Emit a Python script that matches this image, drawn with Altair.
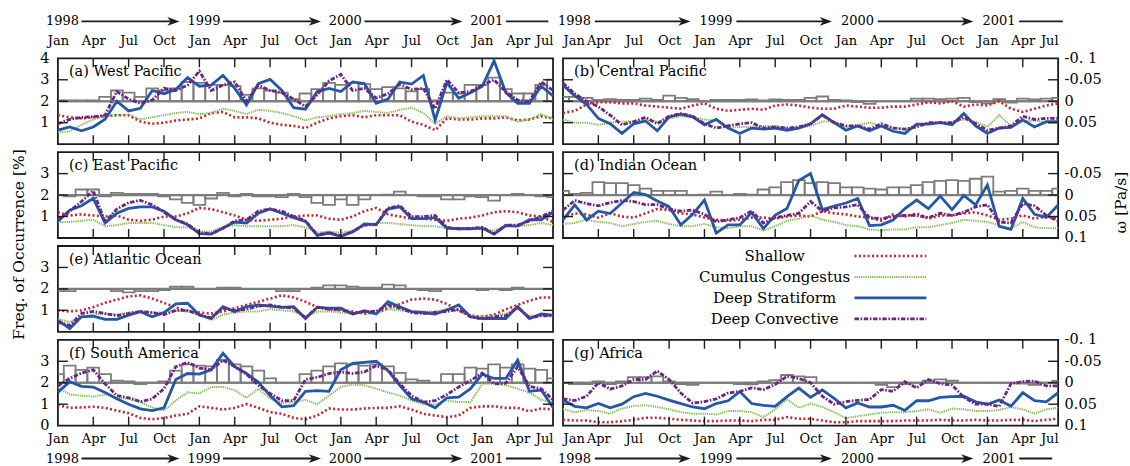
import altair as alt
import pandas as pd

# ---------------------------------------------------------------------------
# Monthly series, Jan 1998 .. Jul 2001 (43 months)
# cloud-type frequency of occurrence [%] and mid-level omega [Pa/s]
# ---------------------------------------------------------------------------
MONTHS = list(range(43))
MONTH_TICKS = list(range(0, 43, 3))
YEARS = ["1998", "1999", "2000", "2001"]
YEAR_START = [0, 12, 24, 36]
SERIES = ["Shallow", "Cumulus Congestus", "Deep Stratiform", "Deep Convective"]

# (a) West Pacific
wp_shallow = [1.35, 1.25, 1.2, 1.25, 1.3, 1.35, 1.35, 1.05, 0.95, 1.0, 1.1, 1.15, 1.2, 1.45, 1.5, 1.25, 1.25, 1.2, 1.0, 0.9, 0.85, 0.75, 1.0, 1.2, 1.3, 1.35, 1.25, 1.35, 1.35, 1.35, 1.05, 0.9, 0.65, 1.2, 1.15, 1.15, 1.2, 1.2, 1.25, 1.1, 1.15, 1.3, 1.2]
wp_congestus = [0.55, 0.6, 0.9, 1.15, 1.3, 1.35, 1.38, 1.15, 1.25, 1.35, 1.45, 1.5, 1.4, 1.45, 1.65, 1.55, 1.4, 1.6, 1.55, 1.45, 1.3, 1.1, 1.25, 1.3, 1.4, 1.45, 1.55, 1.5, 1.45, 1.6, 1.7, 1.45, 0.95, 1.3, 1.2, 1.25, 1.3, 1.3, 1.3, 1.05, 1.15, 1.4, 1.15]
wp_stratiform = [0.65, 0.8, 0.62, 0.8, 1.16, 2.0, 1.55, 1.67, 2.5, 2.35, 2.55, 3.1, 2.7, 2.75, 3.2, 2.6, 1.83, 2.82, 3.02, 2.5, 1.7, 1.63, 2.45, 2.6, 2.45, 2.9, 2.82, 1.9, 2.1, 2.9, 2.8, 3.2, 1.12, 2.87, 2.14, 2.4, 2.7, 3.88, 2.4, 1.9, 1.9, 2.7, 2.25]
wp_convective = [0.95, 1.15, 1.25, 1.28, 1.35, 2.45, 2.1, 1.9, 2.05, 2.6, 2.5, 2.75, 3.4, 2.5, 2.75, 2.9, 2.0, 2.75, 2.5, 2.4, 2.1, 1.75, 2.3, 2.95, 3.25, 2.5, 2.6, 2.15, 2.35, 2.8, 2.55, 2.6, 1.65, 3.0, 2.4, 2.45, 2.75, 3.0, 2.45, 2.05, 2.0, 2.9, 2.5]
wp_omega = [-0.002, -0.002, -0.002, -0.002, -0.01, -0.025, -0.02, -0.01, -0.03, -0.025, -0.03, -0.045, -0.043, -0.038, -0.038, -0.035, -0.015, -0.03, -0.025, -0.02, -0.005, -0.018, -0.028, -0.043, -0.038, -0.043, -0.04, -0.028, -0.033, -0.03, -0.023, -0.028, -0.002, -0.02, -0.018, -0.038, -0.038, -0.055, -0.028, -0.018, -0.018, -0.038, -0.05]

# (b) Central Pacific
cp_shallow = [1.45, 1.55, 1.85, 1.95, 1.95, 1.9, 1.9, 1.8, 1.75, 1.7, 1.65, 1.8, 1.9, 1.65, 1.55, 1.6, 1.65, 1.6, 1.8, 1.85, 1.8, 1.7, 1.65, 1.65, 1.8, 1.75, 1.7, 1.7, 1.75, 1.75, 1.85, 1.95, 1.9, 2.0, 1.75, 1.85, 1.8, 2.0, 1.65, 1.5, 1.65, 1.8, 1.9]
cp_congestus = [1.15, 1.0, 1.0, 0.9, 1.0, 1.05, 1.05, 1.1, 1.05, 1.2, 1.3, 1.25, 1.15, 1.1, 0.75, 0.8, 0.8, 0.85, 0.85, 0.75, 0.75, 0.85, 1.05, 1.05, 0.8, 0.9, 1.0, 0.85, 0.75, 0.7, 0.85, 1.0, 1.0, 1.0, 1.15, 1.05, 0.8, 1.35, 0.85, 1.05, 1.1, 1.0, 1.0]
cp_stratiform = [2.75, 2.25, 1.85, 1.2, 0.95, 0.5, 0.95, 1.08, 0.62, 1.27, 1.4, 1.27, 0.9, 1.16, 0.75, 0.5, 0.75, 0.7, 0.75, 0.65, 0.75, 0.95, 1.37, 1.0, 0.65, 0.85, 0.62, 0.85, 0.6, 0.5, 0.93, 0.93, 1.0, 0.9, 1.43, 0.85, 0.5, 0.75, 0.78, 1.13, 0.8, 1.05, 1.05]
cp_convective = [2.85, 2.35, 2.0, 1.75, 1.35, 0.9, 1.05, 1.25, 0.95, 1.3, 1.42, 1.3, 0.95, 0.75, 0.85, 0.95, 1.0, 0.75, 0.8, 0.75, 0.8, 0.95, 1.35, 1.0, 0.85, 0.85, 0.7, 0.95, 0.75, 0.7, 0.8, 1.0, 1.0, 1.0, 1.25, 0.95, 0.65, 0.75, 0.85, 1.3, 1.15, 1.2, 1.2]
cp_omega = [-0.01, -0.01, -0.008, -0.003, -0.005, -0.003, -0.003, -0.006, -0.003, -0.013, -0.008, -0.005, 0.001, -0.003, -0.003, -0.003, -0.004, -0.002, -0.004, -0.003, -0.003, -0.008, -0.011, -0.003, -0.002, 0.002, 0.006, 0.0, 0.0, 0.0, -0.006, -0.006, -0.005, -0.006, -0.008, 0.002, 0.005, -0.005, 0.003, -0.006, -0.004, -0.006, -0.008]

# (c) East Pacific
ep_shallow = [1.2, 1.05, 1.1, 1.05, 1.0, 1.05, 0.85, 0.8, 0.85, 1.0, 1.0, 1.15, 1.4, 1.35, 1.2, 1.05, 0.85, 0.8, 0.85, 0.9, 1.0, 1.05, 1.05, 0.9, 0.85, 1.0, 1.25, 1.4, 1.1, 1.0, 0.9, 0.9, 0.85, 0.8, 0.9, 0.95, 1.05, 1.2, 1.25, 1.2, 1.05, 1.0, 0.75]
ep_congestus = [0.75, 0.75, 0.8, 0.85, 0.55, 0.6, 0.7, 0.7, 0.7, 0.6, 0.5, 0.5, 0.3, 0.3, 0.5, 0.6, 0.55, 0.55, 0.55, 0.55, 0.6, 0.5, 0.25, 0.3, 0.25, 0.35, 0.6, 0.7, 0.7, 0.65, 0.6, 0.55, 0.55, 0.45, 0.4, 0.45, 0.4, 0.35, 0.55, 0.55, 0.6, 0.7, 0.6]
ep_stratiform = [0.77, 1.3, 1.5, 1.85, 0.7, 1.15, 1.38, 1.45, 1.45, 1.25, 0.85, 0.62, 0.2, 0.18, 0.46, 0.74, 0.7, 1.15, 1.35, 1.15, 0.95, 0.77, 0.12, 0.23, 0.08, 0.28, 0.65, 0.62, 1.35, 1.45, 0.9, 0.9, 0.95, 0.46, 0.43, 0.43, 0.46, 0.18, 0.58, 0.55, 0.85, 0.85, 1.2]
ep_convective = [0.85, 1.25, 1.7, 2.2, 0.75, 1.35, 1.65, 1.75, 1.55, 1.2, 0.85, 0.65, 0.25, 0.2, 0.45, 0.8, 0.85, 1.25, 1.35, 1.25, 1.0, 0.8, 0.15, 0.25, 0.1, 0.3, 0.6, 0.62, 1.4, 1.5, 1.0, 1.0, 1.05, 0.5, 0.43, 0.45, 0.5, 0.2, 0.6, 0.6, 0.8, 1.0, 1.25]
ep_omega = [0.0, 0.003, -0.013, -0.013, 0.003, -0.005, -0.003, -0.003, -0.003, 0.003, 0.01, 0.018, 0.023, 0.008, -0.005, 0.003, -0.003, 0.003, 0.003, 0.005, -0.003, 0.005, 0.018, 0.023, 0.01, 0.023, 0.01, 0.0, -0.001, -0.008, 0.0, 0.003, 0.003, 0.01, 0.01, 0.003, 0.005, 0.013, 0.0, -0.003, 0.0, 0.003, 0.005]

# (d) Indian Ocean
io_shallow = [0.95, 1.15, 1.1, 0.95, 1.15, 1.0, 0.95, 1.15, 1.35, 1.3, 1.15, 1.1, 0.95, 0.85, 0.8, 0.85, 0.95, 0.95, 0.9, 1.0, 1.05, 1.0, 1.25, 1.15, 1.1, 1.0, 0.95, 0.8, 1.1, 1.0, 1.15, 0.9, 1.05, 1.05, 1.15, 1.2, 1.05, 0.85, 0.9, 1.05, 0.9, 1.0, 0.9]
io_congestus = [0.65, 0.7, 0.85, 0.75, 0.7, 0.55, 0.65, 0.75, 0.8, 0.65, 0.55, 0.55, 0.65, 0.5, 0.45, 0.55, 0.55, 0.35, 0.55, 0.8, 0.9, 1.05, 0.85, 0.75, 0.6, 0.55, 0.4, 0.35, 0.4, 0.4, 0.5, 0.5, 0.6, 0.7, 0.85, 0.8, 0.75, 0.6, 0.45, 0.75, 0.5, 0.45, 0.45]
io_stratiform = [0.84, 1.54, 0.84, 1.25, 1.14, 1.63, 2.12, 2.02, 1.72, 1.46, 0.61, 1.1, 1.77, 0.23, 0.61, 0.61, 1.19, 0.44, 1.07, 1.37, 2.68, 3.0, 1.32, 1.49, 1.63, 1.84, 0.58, 0.61, 0.84, 1.37, 1.77, 1.37, 1.95, 1.32, 1.98, 1.54, 2.47, 0.54, 0.4, 1.84, 1.1, 0.96, 1.54]
io_convective = [1.3, 1.75, 1.6, 1.5, 1.65, 1.75, 1.7, 1.55, 1.55, 1.35, 1.25, 1.3, 1.1, 0.75, 0.85, 0.95, 1.25, 0.7, 0.95, 1.05, 1.15, 1.7, 1.25, 1.4, 1.45, 1.55, 0.95, 0.9, 1.0, 1.05, 1.05, 0.95, 1.15, 1.05, 1.2, 1.45, 1.55, 0.75, 0.7, 1.6, 1.5, 1.05, 0.8]
io_omega = [-0.01, -0.003, -0.005, -0.03, -0.028, -0.028, -0.023, -0.015, -0.01, -0.01, -0.01, 0.0, -0.001, -0.008, 0.0, -0.003, -0.001, -0.013, -0.018, -0.03, -0.035, -0.028, -0.03, -0.028, -0.018, -0.018, -0.015, -0.013, -0.018, -0.018, -0.023, -0.03, -0.033, -0.035, -0.033, -0.038, -0.043, -0.008, -0.01, -0.015, -0.01, -0.01, -0.015]

# (e) Atlantic Ocean
at_shallow = [1.0, 0.95, 1.0, 1.15, 1.35, 1.5, 1.65, 1.7, 1.55, 1.35, 1.15, 0.95, 0.9, 0.85, 0.95, 1.1, 1.25, 1.4, 1.55, 1.7, 1.6, 1.4, 1.15, 1.05, 1.0, 0.95, 0.85, 0.9, 1.1, 1.3, 1.5, 1.55, 1.5, 1.3, 1.0, 0.75, 0.7, 0.8, 1.05, 1.25, 1.45, 1.6, 1.6]
at_congestus = [0.6, 0.45, 0.7, 0.8, 0.85, 0.8, 0.9, 0.95, 0.9, 0.9, 1.0, 0.95, 0.8, 0.55, 0.8, 0.9, 0.95, 0.95, 1.05, 1.0, 0.95, 0.7, 0.95, 0.95, 0.9, 0.85, 0.9, 0.85, 1.05, 1.0, 0.95, 0.95, 0.95, 1.05, 0.95, 0.75, 0.75, 0.75, 0.85, 1.05, 0.75, 0.75, 0.75]
at_stratiform = [0.55, 0.15, 0.7, 0.73, 0.58, 0.58, 0.78, 0.94, 0.7, 0.9, 1.3, 1.33, 0.78, 0.62, 1.17, 0.94, 1.17, 1.25, 1.2, 1.14, 1.17, 0.62, 1.14, 1.1, 1.1, 0.83, 0.98, 0.83, 1.4, 1.17, 0.94, 0.9, 0.83, 1.02, 1.25, 0.7, 0.62, 0.62, 0.62, 1.17, 0.62, 0.83, 0.78]
at_convective = [0.45, 0.3, 0.85, 0.95, 0.85, 0.75, 0.85, 0.95, 0.9, 0.8, 1.0, 1.0, 0.8, 0.65, 1.1, 1.0, 1.05, 1.2, 1.25, 1.15, 1.1, 0.65, 1.15, 1.05, 1.05, 0.85, 0.95, 0.95, 1.25, 1.1, 0.9, 0.85, 0.9, 0.95, 1.05, 0.7, 0.6, 0.7, 0.75, 1.15, 0.65, 0.75, 0.75]
at_omega = [0.005, 0.005, 0.0, 0.0, 0.0, 0.005, 0.008, 0.005, 0.005, 0.003, -0.005, -0.005, 0.0, 0.0, -0.003, -0.003, 0.0, 0.0, 0.0, 0.005, 0.005, 0.0, -0.003, -0.008, -0.008, -0.005, -0.003, -0.003, -0.01, -0.008, 0.0, 0.003, 0.005, 0.0, 0.0, 0.0, 0.003, 0.0, 0.003, -0.003, 0.0, 0.0, 0.0]

# (f) South America
sa_shallow = [0.97, 0.83, 0.85, 0.88, 0.83, 0.7, 0.58, 0.36, 0.3, 0.36, 0.47, 0.55, 0.9, 0.83, 0.75, 0.83, 1.0, 0.83, 0.63, 0.55, 0.36, 0.3, 0.47, 0.8, 0.75, 0.75, 0.8, 0.83, 0.83, 0.9, 0.75, 0.55, 0.47, 0.4, 0.47, 0.83, 0.9, 0.9, 0.83, 0.83, 0.67, 0.8, 0.75]
sa_congestus = [1.8, 1.45, 1.4, 1.35, 1.45, 1.3, 1.25, 1.1, 0.85, 0.7, 1.17, 1.55, 1.5, 1.8, 1.8, 1.65, 1.3, 1.72, 1.25, 1.05, 1.1, 1.2, 1.0, 1.4, 1.8, 1.92, 1.88, 1.72, 1.55, 1.4, 1.17, 1.0, 1.0, 1.17, 1.1, 1.1, 1.95, 1.95, 1.88, 1.72, 1.55, 1.2, 1.1]
sa_stratiform = [1.55, 2.05, 1.83, 1.8, 1.55, 1.25, 1.0, 0.78, 0.7, 0.83, 2.15, 2.43, 2.4, 2.6, 3.37, 2.75, 2.43, 2.03, 1.4, 0.88, 0.93, 1.6, 1.63, 1.6, 2.6, 2.9, 2.95, 3.0, 2.56, 1.88, 1.25, 1.1, 0.83, 1.3, 1.33, 1.72, 2.4, 2.2, 2.2, 3.05, 1.6, 1.66, 0.85]
sa_convective = [1.85, 2.2, 2.45, 2.6, 1.95, 1.4, 1.3, 1.12, 1.25, 1.72, 2.75, 2.95, 2.68, 2.6, 3.05, 2.75, 2.4, 1.88, 1.5, 1.17, 1.17, 2.15, 2.25, 2.43, 2.5, 2.43, 2.5, 2.8, 2.6, 1.95, 1.4, 1.1, 1.17, 1.45, 1.8, 2.1, 2.45, 1.95, 1.98, 2.75, 1.83, 1.72, 1.2]
sa_omega = [-0.02, -0.04, -0.03, -0.035, -0.02, -0.005, -0.003, 0.003, 0.0, -0.003, -0.028, -0.043, -0.04, -0.038, -0.053, -0.043, -0.038, -0.028, -0.01, 0.0, 0.0, -0.02, -0.028, -0.038, -0.045, -0.043, -0.04, -0.043, -0.038, -0.023, -0.008, -0.005, 0.0, -0.02, -0.02, -0.035, -0.033, -0.043, -0.035, -0.043, -0.033, -0.03, -0.01]

# (g) Africa
af_shallow = [0.27, 0.24, 0.24, 0.16, 0.16, 0.21, 0.27, 0.37, 0.37, 0.32, 0.27, 0.24, 0.21, 0.21, 0.24, 0.24, 0.21, 0.27, 0.27, 0.4, 0.32, 0.32, 0.24, 0.16, 0.16, 0.21, 0.21, 0.21, 0.21, 0.24, 0.24, 0.24, 0.27, 0.24, 0.24, 0.27, 0.24, 0.24, 0.27, 0.27, 0.21, 0.27, 0.32]
af_congestus = [0.78, 0.62, 0.73, 0.68, 0.56, 0.8, 0.92, 0.95, 0.87, 0.76, 0.63, 0.56, 0.56, 0.52, 0.68, 0.68, 0.63, 0.4, 0.76, 1.24, 0.83, 1.03, 0.87, 0.63, 0.35, 0.44, 0.52, 0.6, 0.63, 0.63, 0.68, 0.76, 0.6, 0.8, 0.76, 0.68, 0.68, 0.73, 0.87, 0.76, 0.56, 0.76, 0.83]
af_stratiform = [1.2, 0.9, 0.83, 1.03, 0.83, 1.0, 1.35, 1.5, 1.37, 1.19, 1.03, 0.87, 0.79, 1.03, 1.16, 1.59, 1.03, 0.95, 0.9, 1.35, 1.75, 1.32, 1.67, 1.27, 0.83, 1.06, 0.87, 0.87, 0.95, 0.71, 1.16, 1.16, 1.32, 1.35, 1.37, 1.11, 1.0, 1.19, 0.9, 1.54, 1.16, 1.11, 1.54]
af_convective = [1.25, 1.17, 1.37, 2.0, 1.7, 1.85, 2.15, 2.15, 2.55, 2.15, 1.52, 1.05, 1.12, 1.25, 1.52, 1.6, 1.76, 1.68, 1.92, 2.3, 2.2, 2.0, 1.37, 1.0, 1.12, 1.18, 1.22, 1.68, 1.6, 2.05, 1.76, 2.15, 1.95, 1.9, 1.32, 1.0, 1.0, 0.9, 1.95, 2.05, 2.08, 1.85, 1.85]
af_omega = [0.0, 0.003, 0.003, -0.003, 0.003, -0.003, -0.013, -0.013, -0.015, -0.003, 0.003, 0.005, 0.0, 0.0, 0.0, 0.003, 0.004, -0.003, -0.006, -0.018, -0.015, -0.013, 0.0, 0.0, 0.0, 0.0, 0.0, 0.005, 0.01, 0.003, 0.0, -0.005, -0.008, -0.005, 0.0, 0.0, 0.0, 0.0, 0.0, 0.002, 0.005, 0.0, -0.004]

# ---------------------------------------------------------------------------
# Styling
# ---------------------------------------------------------------------------
FONT = "DejaVu Serif"
W, H = 496, 86
INK = "#1c1c1c"
GRAY = "#7c7c7c"
STYLE = {
    "Shallow": dict(color="#c8232c", strokeWidth=2.6, strokeDash=[2, 2.4]),
    "Cumulus Congestus": dict(color="#7db84c", strokeWidth=2.0, strokeDash=[1.2, 1.0]),
    "Deep Stratiform": dict(color="#2358a8", strokeWidth=2.8),
    "Deep Convective": dict(color="#6b2585", strokeWidth=2.8, strokeDash=[4.5, 1.6, 1.6, 1.6]),
}
ARROW = "M -1 -0.7 L 1 0 L -1 0.7 L -0.45 0 Z"
SP = "\u2004"

XS = alt.Scale(domain=[0, 42], nice=False, zero=False)
FS = alt.Scale(domain=[0, 4], nice=False, zero=False)
OS = alt.Scale(domain=[-0.1, 0.1], nice=False, zero=False, reverse=True)

MONTH_EXPR = "['Jan','Apr','Jul','Oct'][round(datum.value / 3) % 4]"
OMEGA_EXPR = (
    "datum.value < -0.07 ? '-0. 1' : datum.value < -0.01 ? '-0.05' : "
    f"datum.value < 0.01 ? '{SP}0' : datum.value < 0.07 ? '{SP}0.05' : '{SP}0.1'"
)


def x_axis(row, col):
    if row not in (0, 3):
        return None
    conds = [{"test": "datum.value >= 42", "value": "right"}]
    if col == 1:
        conds.insert(0, {"test": "datum.value <= 0", "value": "left"})
    return alt.Axis(
        orient="top" if row == 0 else "bottom",
        values=MONTH_TICKS,
        labelExpr=MONTH_EXPR,
        labelAlign={"condition": conds, "value": "center"},
        labelFlush=False,
        labelOverlap=False,
        labelFontSize=13,
        labelPadding=11 if row == 0 else 7,
        title=None,
    )


def year_row(row, col, xax):
    """Year labels with arrows above the top panels / below the bottom panels."""
    yrow = -37 if row == 0 else H + 33
    if col == 0:
        s, t, last = 2.0, 10.3, (41.6 if row == 0 else 41.0)
        dx = -12
    else:
        s, t, last = 2.7, 10.8, (42.4 if row == 0 else 41.5)
        dx = -5
    ydf = pd.DataFrame({"month": YEAR_START, "year": YEARS})
    seg = pd.DataFrame({
        "start": [m + s for m in YEAR_START],
        "end": [m + t - 0.5 for m in YEAR_START[:-1]] + [last],
    })
    heads = pd.DataFrame({"month": [m + t - 0.5 for m in YEAR_START[:-1]]})
    txt = alt.Chart(ydf).mark_text(
        align="left", baseline="middle", dx=dx, font=FONT, fontSize=13, color="black"
    ).encode(x=alt.X("month:Q", scale=XS, axis=xax), y=alt.value(yrow), text="year:N")
    rules = alt.Chart(seg).mark_rule(color=INK, strokeWidth=2).encode(
        x=alt.X("start:Q", scale=XS, axis=xax), x2="end:Q", y=alt.value(yrow)
    )
    tips = alt.Chart(heads).mark_point(
        shape=ARROW, size=150, filled=True, color=INK, opacity=1, strokeWidth=0
    ).encode(x=alt.X("month:Q", scale=XS, axis=xax), y=alt.value(yrow))
    return [txt, rules, tips]


def panel(label, shallow, congestus, stratiform, convective, omega, row, col,
          left_vals=None, right_vals=None, left_title=None, right_title=None):
    xax = x_axis(row, col)

    if left_vals is not None:
        fax = alt.Axis(orient="left", values=left_vals, labelPadding=9, labelOverlap=False,
                       title=left_title if left_title else None,
                       **({"titleX": -39, "titleY": 92, "titleAngle": 270,
                           "titleAlign": "center", "titleBaseline": "middle"} if left_title else {}))
    else:
        fax = None
    if right_vals is not None:
        oax = alt.Axis(orient="right", values=right_vals, labelExpr=OMEGA_EXPR,
                       labelAlign="left", labelBaseline="middle", labelPadding=6,
                       labelOverlap=False, title=right_title if right_title else None,
                       **({"titleX": 62, "titleY": 50, "titleAngle": 270,
                           "titleAlign": "center", "titleBaseline": "middle"} if right_title else {}))
    else:
        oax = None

    # vertical velocity: open boxes from zero, plus the zero line
    odf = pd.DataFrame({"month": MONTHS, "omega": omega})
    boxes = alt.Chart(odf).transform_calculate(
        lo="datum.month - 0.5", hi="datum.month + 0.5"
    ).mark_rect(fillOpacity=0, stroke=GRAY, strokeWidth=1.8, clip=True).encode(
        x=alt.X("lo:Q", scale=XS, axis=xax), x2="hi:Q",
        y=alt.Y("omega:Q", scale=OS, axis=oax), y2=alt.datum(0),
    )
    zero = alt.Chart(pd.DataFrame({"omega": [0.0]})).mark_rule(color=GRAY, strokeWidth=2.2).encode(
        y=alt.Y("omega:Q", scale=OS, axis=oax), x=alt.value(0), x2=alt.value(W)
    )
    omega_part = alt.layer(boxes, zero)

    # cloud-type frequencies
    layers = []
    for name, vals in zip(SERIES, [shallow, congestus, stratiform, convective]):
        df = pd.DataFrame({"month": MONTHS, "value": vals})
        layers.append(
            alt.Chart(df).mark_line(**STYLE[name]).encode(
                x=alt.X("month:Q", scale=XS, axis=xax),
                y=alt.Y("value:Q", scale=FS, axis=fax),
            )
        )

    # inward ticks on all four sides
    xt = pd.DataFrame({"month": MONTH_TICKS[1:-1]})
    yt = pd.DataFrame({"value": [1, 2, 3]})
    tick = dict(color=INK, strokeWidth=1.4)
    layers += [
        alt.Chart(xt).mark_rule(**tick).encode(x=alt.X("month:Q", scale=XS, axis=xax), y=alt.value(0), y2=alt.value(9)),
        alt.Chart(xt).mark_rule(**tick).encode(x=alt.X("month:Q", scale=XS, axis=xax), y=alt.value(H - 9), y2=alt.value(H)),
        alt.Chart(yt).mark_rule(**tick).encode(y=alt.Y("value:Q", scale=FS, axis=fax), x=alt.value(0), x2=alt.value(10)),
        alt.Chart(yt).mark_rule(**tick).encode(y=alt.Y("value:Q", scale=FS, axis=fax), x=alt.value(W - 10), x2=alt.value(W)),
    ]

    layers.append(
        alt.Chart(pd.DataFrame({"label": [label]})).mark_text(
            align="left", baseline="middle", font=FONT, fontSize=14.5, color="black"
        ).encode(x=alt.value(11), y=alt.value(14), text="label:N")
    )
    if row in (0, 3):
        layers += year_row(row, col, xax)

    freq_part = alt.layer(*layers)
    return alt.layer(omega_part, freq_part).resolve_scale(y="independent").properties(width=W, height=H)


pa = panel("(a) West Pacific", wp_shallow, wp_congestus, wp_stratiform, wp_convective, wp_omega,
           0, 0, left_vals=[1, 2, 3, 4])
pb = panel("(b) Central Pacific", cp_shallow, cp_congestus, cp_stratiform, cp_convective, cp_omega,
           0, 1, right_vals=[-0.1, -0.05, 0, 0.05])
pc = panel("(c) East Pacific", ep_shallow, ep_congestus, ep_stratiform, ep_convective, ep_omega,
           1, 0, left_vals=[1, 2, 3], left_title="Freq. of Occurrence [%]")
pd_ = panel("(d) Indian Ocean", io_shallow, io_congestus, io_stratiform, io_convective, io_omega,
            1, 1, right_vals=[-0.05, 0, 0.05, 0.1], right_title="ω [Pa/s]")
pe = panel("(e) Atlantic Ocean", at_shallow, at_congestus, at_stratiform, at_convective, at_omega,
           2, 0, left_vals=[1, 2, 3])
pf = panel("(f) South America", sa_shallow, sa_congestus, sa_stratiform, sa_convective, sa_omega,
           3, 0, left_vals=[0, 1, 2, 3])
pg = panel("(g) Africa", af_shallow, af_congestus, af_stratiform, af_convective, af_omega,
           3, 1, right_vals=[-0.1, -0.05, 0, 0.05, 0.1])

# key in the empty cell
ldf = pd.DataFrame({"name": SERIES, "slot": [0, 1, 2, 3]})
LY = alt.Scale(domain=[0, 3], range=[10, 73])
key_text = alt.Chart(ldf).mark_text(
    align="center", baseline="middle", font=FONT, fontSize=15, color="black"
).encode(x=alt.value(212), y=alt.Y("slot:Q", scale=LY, axis=None), text="name:N")
key_lines = [
    alt.Chart(ldf[ldf["name"] == name]).mark_rule(**STYLE[name]).encode(
        x=alt.value(292), x2=alt.value(364), y=alt.Y("slot:Q", scale=LY, axis=None)
    )
    for name in SERIES
]
key = alt.layer(key_text, *key_lines).properties(
    width=W, height=H, view=alt.ViewBackground(stroke="transparent")
)

chart = alt.concat(
    pa, pb, pc, pd_, pe, key, pf, pg, columns=2, spacing={"row": 8, "column": 10}
).properties(
    bounds="flush", align="all", background="white",
    padding={"left": 11, "top": 14, "right": 0, "bottom": 0},
).configure_view(stroke=INK, strokeWidth=1.8).configure_axis(
    grid=False, ticks=False, domain=False,
    labelFont=FONT, labelFontSize=14.5, labelColor="black",
    titleFont=FONT, titleFontSize=15.5, titleColor="black", titleFontWeight="normal",
)

chart.save("out.html", embed_options={"renderer": "svg", "actions": False})
